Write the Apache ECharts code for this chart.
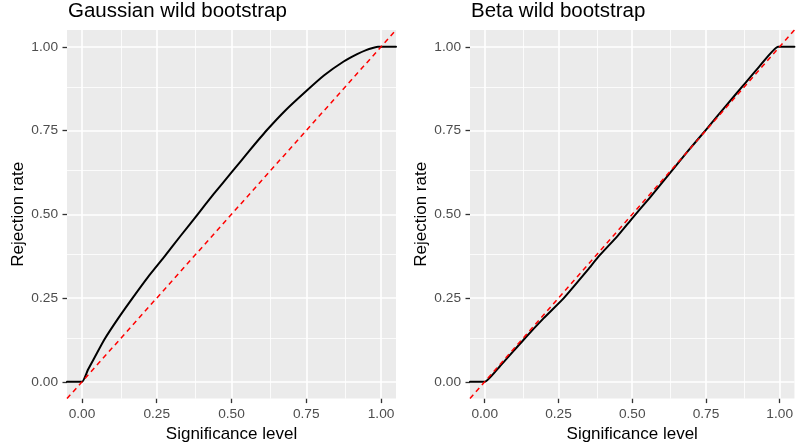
<!DOCTYPE html>
<html>
<head>
<meta charset="utf-8">
<script src="https://cdn.jsdelivr.net/npm/echarts@6/dist/echarts.min.js"></script>
<style>
html,body{margin:0;padding:0;background:#fff;}
#chart{width:796px;height:448px;}
</style>
</head>
<body>
<div id="chart"></div>
<script>
// ---- data ----
const panelTitles = ['Gaussian wild bootstrap', 'Beta wild bootstrap'];
const xAxisTitle = 'Significance level';
const yAxisTitle = 'Rejection rate';
const majorTicks = [0, 0.25, 0.5, 0.75, 1];
const minorTicks = [0.125, 0.375, 0.625, 0.875];
const axisRange = [-0.05, 1.05];

const gaussX = [-0.05, 0, 0.02, 0.04, 0.074, 0.12, 0.169, 0.22, 0.277, 0.33, 0.387, 0.44, 0.5, 0.56, 0.617, 0.68, 0.75, 0.81, 0.875, 0.92, 0.95, 0.975, 0.99, 1.05];
const gaussY = [0, 0, 0.036, 0.069, 0.125, 0.188, 0.25, 0.312, 0.375, 0.436, 0.5, 0.56, 0.625, 0.69, 0.75, 0.81, 0.868, 0.915, 0.956, 0.978, 0.99, 0.997, 1.0, 1.0];

const betaX = [-0.05, 0, 0.05, 0.131, 0.2, 0.268, 0.35, 0.387, 0.45, 0.5, 0.56, 0.625, 0.69, 0.75, 0.82, 0.875, 0.93, 0.995, 1.05];
const betaY = [0, 0, 0.045, 0.125, 0.19, 0.25, 0.335, 0.375, 0.435, 0.488, 0.55, 0.62, 0.69, 0.752, 0.826, 0.883, 0.94, 1.0, 1.0];

const diagX = [-0.05, 1.05];
const diagY = [-0.05, 1.05];

// ---- build ----
const zip = (a, b) => a.map((v, i) => [v, b[i]]);
const FONT = '"Liberation Sans", Arial, sans-serif';
const panels = [
  { left: 67, curve: zip(gaussX, gaussY) },
  { left: 470, curve: zip(betaX, betaY) }
];

const grids = [], xAxes = [], yAxes = [], titles = [], series = [];
panels.forEach((p, i) => {
  grids.push({ left: p.left, top: 30, width: 329, height: 373, show: true,
    backgroundColor: '#EBEBEB', borderWidth: 0, containLabel: false });
  titles.push({ text: panelTitles[i], left: p.left + 1, top: 1, padding: 0,
    textStyle: { fontFamily: FONT, fontSize: 20.5, fontWeight: 'normal', color: '#000' } });
  const axisCommon = {
    type: 'value', gridIndex: i, min: axisRange[0], max: axisRange[1],
    axisLine: { show: false, onZero: false },
    axisTick: { show: true, inside: false, length: 4.5, customValues: majorTicks, lineStyle: { color: '#333333', width: 1.3 } },
    splitLine: { show: false },
    minorSplitLine: { show: false },
    nameTextStyle: { fontFamily: FONT, fontSize: 17, color: '#000' }
  };
  xAxes.push(Object.assign({}, axisCommon, {
    position: 'bottom',
    name: xAxisTitle, nameLocation: 'middle', nameGap: 24.5,
    axisLabel: { customValues: majorTicks, formatter: v => v.toFixed(2), color: '#4D4D4D',
      fontFamily: FONT, fontSize: 13.7, margin: 8.5 }
  }));
  yAxes.push(Object.assign({}, axisCommon, {
    position: 'left',
    name: yAxisTitle, nameLocation: 'middle', nameGap: 40, nameRotate: 90,
    axisLabel: { customValues: majorTicks, formatter: v => v.toFixed(2), color: '#4D4D4D',
      fontFamily: FONT, fontSize: 13.7, margin: 9 }
  }));
  // grid lines via markLine (through axis scales)
  const gl = [];
  minorTicks.forEach(v => {
    gl.push({ xAxis: v, lineStyle: { width: 0.8 } });
    gl.push({ yAxis: v, lineStyle: { width: 0.8 } });
  });
  majorTicks.forEach(v => {
    gl.push({ xAxis: v, lineStyle: { width: 1.6 } });
    gl.push({ yAxis: v, lineStyle: { width: 1.6 } });
  });
  series.push({
    type: 'line', xAxisIndex: i, yAxisIndex: i, data: [], silent: true, z: 1,
    markLine: { silent: true, z: 1, symbol: ['none', 'none'], animation: false,
      label: { show: false }, emphasis: { disabled: true },
      lineStyle: { color: '#FFFFFF', type: 'solid' }, data: gl }
  });
  series.push({
    type: 'line', xAxisIndex: i, yAxisIndex: i, data: p.curve, z: 3,
    showSymbol: false, symbol: 'none', silent: true, smooth: 0.15,
    lineStyle: { color: '#000000', width: 2, cap: 'round', join: 'round' }
  });
  series.push({
    type: 'line', xAxisIndex: i, yAxisIndex: i, data: zip(diagX, diagY), z: 4,
    showSymbol: false, symbol: 'none', silent: true,
    lineStyle: { color: '#FF0000', width: 1.5, type: [5, 4] }
  });
});

const chart = echarts.init(document.getElementById('chart'), null, { renderer: 'canvas' });
chart.setOption({
  animation: false,
  backgroundColor: '#FFFFFF',
  textStyle: { fontFamily: FONT },
  title: titles,
  grid: grids,
  xAxis: xAxes,
  yAxis: yAxes,
  series: series
});
</script>
</body>
</html>
